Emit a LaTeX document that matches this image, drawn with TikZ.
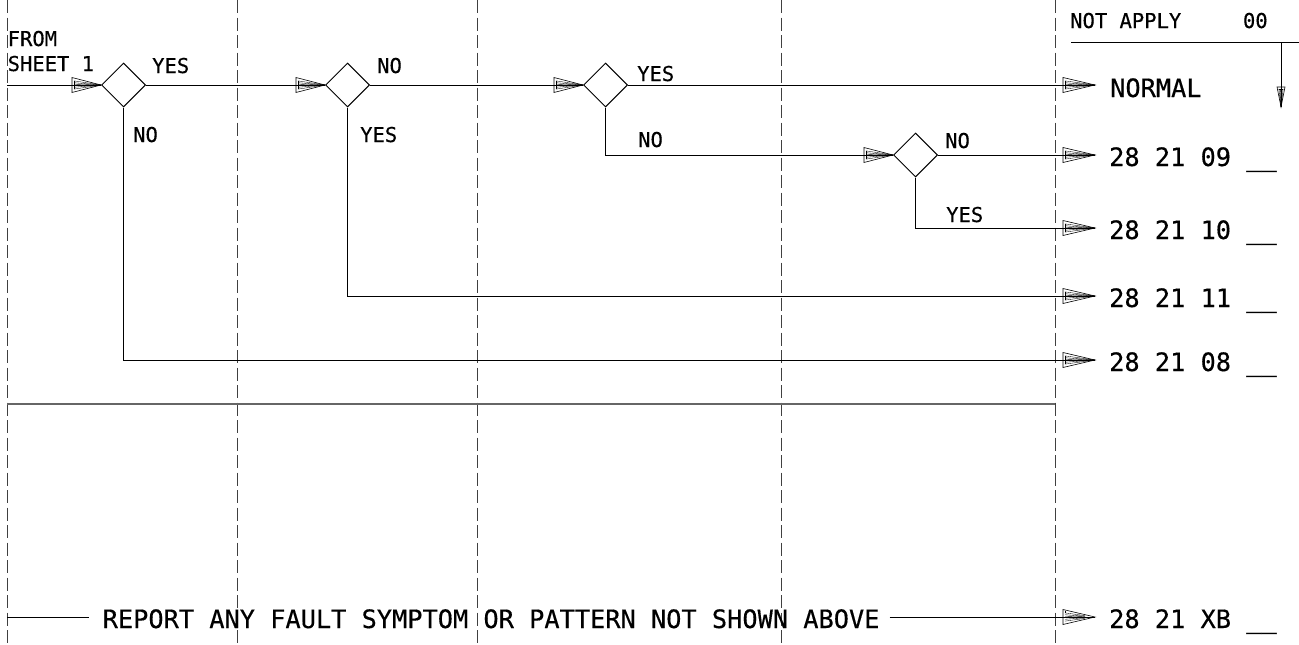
\documentclass[tikz,border=0pt]{standalone}
\usepackage{fontspec}
\setmainfont[FakeBold=0.4]{DejaVu Sans Mono}
\usetikzlibrary{shapes.geometric,decorations.markings}
\newcommand\fanhead[2]{%
  \draw[line width=0.6pt] (0,0) -- (-#1,#2) -- (-#1,-#2) -- cycle;
  \foreach \f in {0.55,0.3,0.1,-0.1,-0.3,-0.55} \draw[line width=0.35pt] (0,0) -- (-#1+2,#2*\f);
  \draw[line width=0.35pt] (-#1+2,#2*0.55) -- (-#1+2,-#2*0.55);
}
\tikzset{
  conn/.style={line width=1pt, black},
  fan/.style={conn, postaction={decorate}, decoration={markings, mark=at position 1 with {\fanhead{29}{7.5}}}},
  fanbig/.style={conn, postaction={decorate}, decoration={markings, mark=at position 1 with {\fanhead{32}{7.5}}}},
  fansmall/.style={conn, postaction={decorate}, decoration={markings, mark=at position 1 with {\fanhead{20}{4}}}},
  dec/.style={shape=diamond, draw, line width=1pt, minimum width=44pt, minimum height=44pt, inner sep=0pt, aspect=1},
  lbl/.style={font=\fontsize{20.5}{24}\selectfont, inner sep=0pt, anchor=base west},
  big/.style={font=\fontsize{25.3}{30}\selectfont, inner sep=0pt, anchor=base west},
  gridline/.style={black!75, line width=1pt, dash pattern=on 13pt off 4.5pt},
  sepline/.style={black!60, line width=1.3pt},
}
\begin{document}
\begin{tikzpicture}[x=1pt,y=-1pt]
\fill[white] (0,0) rectangle (1299,645);
\useasboundingbox (0,0) rectangle (1299,645);
% dashed column lines
\foreach \gx in {7,237,477,781,1055} \draw[gridline] (\gx,0) -- (\gx,645);
% separator
\draw[sepline] (7,404) -- (1055,404);
% decision diamonds
\node[dec] (d1) at (123.5,85) {};
\node[dec] (d2) at (347.5,85) {};
\node[dec] (d3) at (605.5,85) {};
\node[dec] (d4) at (915.5,155) {};
% arrow end points
\coordinate (start) at (7,85);
\coordinate (aN) at (1095,85);
\coordinate (a09) at (1095,155);
\coordinate (a10) at (1095,228);
\coordinate (a11) at (1095,296);
\coordinate (a08) at (1095,360);
\coordinate (aXB) at (1095,617);
\coordinate (bl) at (7,617);
% results
\node[big] (tN) at (1110,97) {NORMAL};
\node[big] (t09) at (1109,166) {28 21 09 \_\_};
\node[big] (t10) at (1109,239) {28 21 10 \_\_};
\node[big] (t11) at (1109,307) {28 21 11 \_\_};
\node[big] (t08) at (1109,371) {28 21 08 \_\_};
\node[big] (tXB) at (1109,628) {28 21 XB \_\_};
\node[big] (rep) at (102.5,628) {REPORT ANY FAULT SYMPTOM OR PATTERN NOT SHOWN ABOVE};
% labels
\node[lbl] (from1) at (7.5,46) {FROM};
\node[lbl] (from2) at (7.5,71) {SHEET 1};
\node[lbl] (y1) at (152,73) {YES};
\node[lbl] (n1) at (133,142) {NO};
\node[lbl] (n2) at (377,73) {NO};
\node[lbl] (y2) at (360,142) {YES};
\node[lbl] (y3) at (637,81) {YES};
\node[lbl] (n3) at (638,147) {NO};
\node[lbl] (n4) at (945,148) {NO};
\node[lbl] (y4) at (946,222) {YES};
\node[lbl] (na) at (1070,28) {NOT APPLY\ \ \ \ \ 00};
% not apply
\coordinate (naL) at (1071,42);
\coordinate (naR) at (1299,42);
\coordinate (naD0) at (1281,42);
\coordinate (naD1) at (1281,107);
\draw[conn] (naL) -- (naR);
\draw[fansmall] (naD0) -- (naD1);
% connectors
\draw[fan] (start) -- (d1.west);
\draw[fan] (d1.east) -- (d2.west);
\draw[fan] (d2.east) -- (d3.west);
\draw[fanbig] (d3.east) -- (aN);
\draw[fan] (d3.south) |- (d4.west);
\draw[fanbig] (d4.east) -- (a09);
\draw[fanbig] (d4.south) |- (a10);
\draw[fanbig] (d2.south) |- (a11);
\draw[fanbig] (d1.south) |- (a08);
\draw[conn, shorten >=14pt] (bl) -- (bl -| rep.west);
\draw[fanbig, shorten <=10pt] (rep.east |- aXB) -- (aXB);
\end{tikzpicture}
\end{document}
